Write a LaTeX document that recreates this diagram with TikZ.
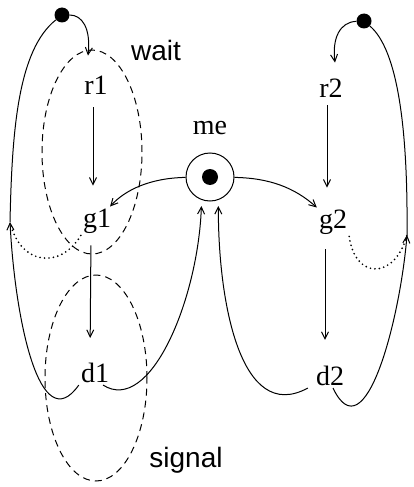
\documentclass[tikz,border=0pt]{standalone}
\usepackage{fontspec}
\setmainfont{Liberation Serif}
\setsansfont{Liberation Sans}
\usetikzlibrary{arrows.meta}

\begin{document}
\begin{tikzpicture}[x=1pt,y=1pt,
        state/.style={inner sep=2pt,font=\fontsize{28}{30}\selectfont},
        token/.style={circle,fill=black,minimum size=15pt,inner sep=0pt},
        place/.style={circle,draw,line width=1pt,minimum size=48pt,inner sep=0pt},
        flow/.style={line width=1pt,-{Straight Barb[length=7pt,width=7pt]}},
        link/.style={line width=1pt},
        hint/.style={line width=1.9pt,line cap=round,dash pattern=on 0pt off 4.5pt},
        region/.style={line width=1pt,dash pattern=on 7pt off 5pt},
        tag/.style={font=\sffamily\fontsize{28}{30}\selectfont}]
    \useasboundingbox (0,0) rectangle (414,-487);

    % Process 1
    \node[token] (tok1) at (62,-15) {};
    \node[state] (r1) at (96,-85) {r1};
    \node[state] (g1) at (97,-221) {g1};
    \node[state] (d1) at (95,-373) {d1};

    % Process 2
    \node[token] (tok2) at (364,-21) {};
    \node[state] (r2) at (331,-88) {r2};
    \node[state] (g2) at (333,-222) {g2};
    \node[state] (d2) at (330,-376) {d2};

    % Shared place me
    \node[place,label={[state,label distance=16pt]above:me}] (me) at (210,-177) {};
    \node[token,minimum size=16pt] (medot) at (me) {};

    % Joints on the outer lines
    \coordinate (lup) at (10,-222);
    \coordinate (rup) at (407,-235);

    % Edges in process 1
    \draw[flow] (tok1) .. controls (82,-15) and (91,-28) .. ([xshift=-8pt,yshift=18pt]r1.north);
    \draw[flow,shorten <=11pt,shorten >=21pt] ([xshift=-3pt]r1.south) -- ([xshift=-4pt]g1.north);
    \draw[flow,shorten <=10pt,shorten >=23pt] ([xshift=-6pt]g1.south) -- ([xshift=-5pt]d1.north);

    % Edges in process 2
    \draw[flow] (tok2) .. controls (340,-22) and (332,-38) .. ([xshift=4pt,yshift=14pt]r2.north);
    \draw[flow,shorten <=6pt,shorten >=20pt] ([xshift=-4pt]r2.south) -- ([xshift=-6pt]g2.north);
    \draw[flow,shorten <=13pt,shorten >=24pt] ([xshift=-8pt]g2.south) -- ([xshift=-5pt]d2.north);

    % Edges from me
    \draw[flow] (me) .. controls (150,-178) and (125,-190) .. (g1);
    \draw[flow] (me) .. controls (270,-178) and (295,-188) .. (g2);

    % Edges back to me
    \draw[flow,shorten >=6pt] ([xshift=8pt]d1.south) .. controls (150,-415) and (198,-300) .. (me.-110);
    \draw[flow,shorten >=6pt] ([xshift=-6pt]d2.south west) .. controls (240,-425) and (218,-300) .. (me.-70);

    % Edges back to the tokens
    \draw[flow] (d1.south west) .. controls (40,-440) and (15,-320) .. (lup);
    \draw[link] (lup) .. controls (12,-130) and (18,-50) .. (tok1);
    \draw[flow] ([xshift=3pt]d2.south) .. controls (365,-455) and (400,-320) .. (rup);
    \draw[link] (rup) .. controls (408,-130) and (398,-50) .. (tok2);

    % Dotted shortcuts
    \draw[hint] (g1.south west) .. controls (60,-270) and (20,-265) .. (lup);
    \draw[hint] (g2.south east) .. controls (355,-280) and (395,-280) .. (rup);

    % Regions
    \draw[region] (92,-152) ellipse [x radius=50, y radius=102];
    \draw[region] (96,-378) ellipse [x radius=51, y radius=103];
    \node[tag] (wait) at (156,-50) {wait};
    \node[tag] (signal) at (186,-460) {signal};
\end{tikzpicture}
\end{document}
